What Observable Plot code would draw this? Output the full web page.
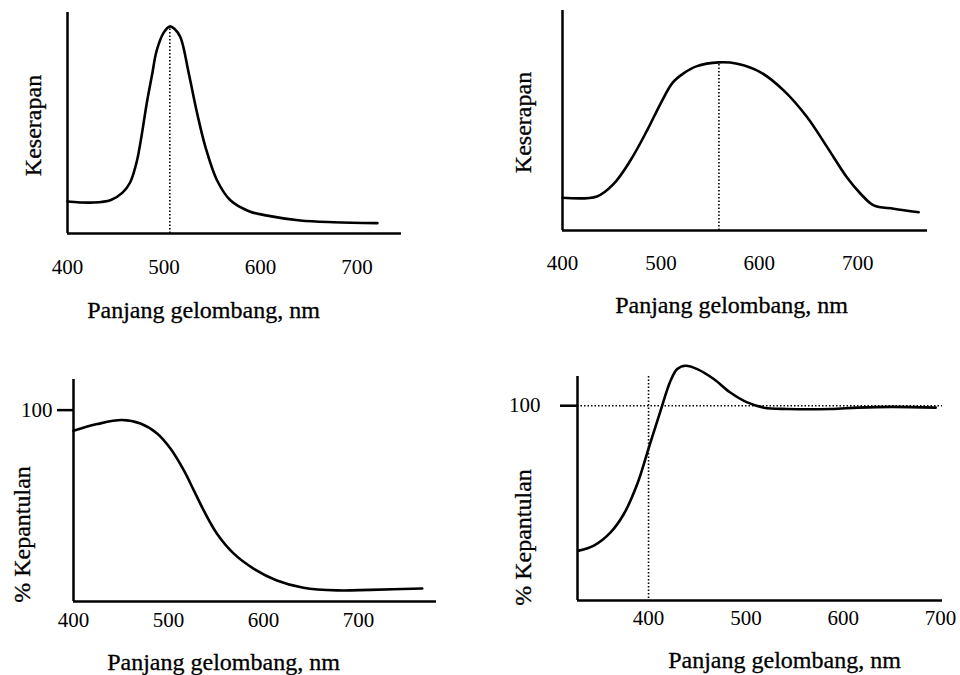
<!DOCTYPE html>
<html><head><meta charset="utf-8">
<script src="https://cdn.jsdelivr.net/npm/d3@7"></script>
<script src="https://cdn.jsdelivr.net/npm/@observablehq/plot@0.6"></script>
<style>
body{margin:0;background:#fff;}
#chart{position:relative;width:960px;height:675px;background:#fff;overflow:hidden;}
#chart svg{position:absolute;overflow:visible;}
</style></head><body><div id="chart"></div>
<script>
// ---- texts and ticks ----
const xTicks = [400, 500, 600, 700];
const xLabel = "Panjang gelombang, nm";
const yLabelAbs = "Keserapan";
const yLabelRefl = "% Kepantulan";
const yTicksRefl = [100];

// ---- panel A: narrow absorption band ----
const nmA  = [400, 427, 445, 457, 465, 472, 482.6, 487.8, 492.4, 499.8, 506, 511, 517, 525.7, 534.4, 543, 555, 569, 588, 607, 641, 675.5, 721];
const absA = [14.5, 14, 15.2, 18.5, 23.2, 33, 60.2, 72.3, 82.8, 91, 93.7, 92.5, 88.8, 72.3, 54.2, 39, 24, 14.9, 10.1, 8.1, 5.9, 5.1, 4.7];

// ---- panel B: broad absorption band ----
const nmB  = [400, 435, 452, 469, 486, 499.6, 512, 523, 536, 559, 577.5, 601, 625, 648.7, 669, 689, 703, 716.4, 736.7, 762];
const absB = [14.9, 15.5, 21.2, 31.8, 45.5, 57.6, 67.2, 71.4, 74.6, 76.4, 75.8, 72, 63.6, 51.5, 37.9, 24.2, 16.7, 11.4, 9.9, 8.3];

// ---- panel C: reflectance, falling ----
const nmC   = [400, 425, 451, 470.5, 488, 502, 516, 526.6, 537, 551, 568.7, 589.8, 614, 642, 677.6, 712.6, 767];
const refC  = [89.2, 92.7, 94.8, 93, 87.8, 79.9, 68.6, 58.1, 47.6, 35.4, 25, 17.1, 11, 7.2, 5.8, 6.1, 6.8];

// ---- panel D: reflectance with overshoot ----
const nmD   = [328.3, 343.8, 361, 374.6, 388.4, 400.3, 412.3, 422.6, 429.5, 438, 450, 467, 484, 501.4, 518.5, 542.5, 587, 615, 650, 695];
const refD  = [25.6, 28.2, 35, 44.4, 59.8, 78.5, 97.4, 112.8, 118.8, 120.5, 118.8, 113.7, 106.8, 101.7, 99, 98.3, 98.3, 99, 99.4, 99];
const refLineD = [100];
const edgeD = [400];

const chart = document.getElementById("chart");
const FONT = "'Liberation Serif', 'Times New Roman', serif";

function label(text, cx, cy, p, rotate) {
  return Plot.text([text], {
    text: d => d,
    frameAnchor: "top-left",
    dx: cx - p.ml, dy: cy - p.mt,
    textAnchor: "middle", lineAnchor: "middle",
    rotate: rotate || 0,
    fontSize: 24, fill: "black", stroke: "black", strokeWidth: 0.3
  });
}

function makePanel(p) {
  const data = p.nm.map((x, i) => ({x, y: p.val[i]}));
  const marks = [
    Plot.ruleY([0], {stroke: "black", strokeWidth: 2.5}),
    Plot.ruleX([p.xDomain[0]], {stroke: "black", strokeWidth: 2.5}),
    ...(p.extra || []),
    Plot.line(data, {x: "x", y: "y", curve: "catmull-rom", stroke: "black", strokeWidth: 2.6}),
    Plot.axisX(xTicks, {tickSize: 0, tickPadding: p.xPad, fontSize: 21, label: null, fill: "black", stroke: "black", strokeWidth: 0.3}),
    label(xLabel, p.xl[0], p.xl[1], p),
    label(p.yText, p.yl[0], p.yl[1], p, -90)
  ];
  if (p.yTicks) marks.push(Plot.axisY(p.yTicks, {tickSize: p.ySize, tickPadding: p.yPad, fontSize: 21, strokeWidth: 2.5, stroke: "black", fill: "black", label: null}));
  const svg = Plot.plot({
    width: p.w, height: p.h,
    marginLeft: p.ml, marginRight: p.mr, marginTop: p.mt, marginBottom: p.mb,
    x: {domain: p.xDomain},
    y: {domain: p.yDomain, axis: p.yTicks ? undefined : null},
    style: {fontFamily: FONT, fontSize: "21px", color: "black", background: "transparent"},
    marks
  });
  svg.style.left = p.left + "px";
  svg.style.top = p.top + "px";
  chart.appendChild(svg);
}

const dotted = {stroke: "black", strokeWidth: 1.6, strokeDasharray: "1.5,2"};

const iA = d3.maxIndex(absA);
makePanel({
  left: 0, top: 0, w: 480, h: 330, ml: 67, mr: 79, mt: 12, mb: 97,
  xDomain: [400, 746], yDomain: [0, 100], xPad: 26,
  nm: nmA, val: absA, yText: yLabelAbs, xl: [203, 310], yl: [33, 125],
  extra: [Plot.ruleX([{x: nmA[iA], v: absA[iA]}], {x: "x", y1: () => 0, y2: "v", ...dotted})]
});

const iB = d3.maxIndex(absB);
makePanel({
  left: 480, top: 0, w: 480, h: 330, ml: 82, mr: 33, mt: 10, mb: 100,
  xDomain: [400, 771], yDomain: [0, 100], xPad: 25,
  nm: nmB, val: absB, yText: yLabelAbs, xl: [251, 305], yl: [43, 122],
  extra: [Plot.ruleX([{x: nmB[iB], v: absB[iB]}], {x: "x", y1: () => 0, y2: "v", ...dotted})]
});

makePanel({
  left: 0, top: 340, w: 480, h: 335, ml: 73, mr: 44, mt: 39, mb: 74,
  xDomain: [400, 782], yDomain: [0, 116], xPad: 11,
  yTicks: yTicksRefl, ySize: 16, yPad: 5,
  nm: nmC, val: refC, yText: yLabelRefl, xl: [223, 322], yl: [22, 194]
});

makePanel({
  left: 480, top: 340, w: 480, h: 335, ml: 97, mr: 18, mt: 36, mb: 75,
  xDomain: [327, 702], yDomain: [0, 115], xPad: 10,
  yTicks: yTicksRefl, ySize: 17, yPad: 20,
  nm: nmD, val: refD, yText: yLabelRefl, xl: [304, 320], yl: [43, 197],
  extra: [Plot.ruleY(refLineD, dotted), Plot.ruleX(edgeD, dotted)]
});
</script>
</body></html>
